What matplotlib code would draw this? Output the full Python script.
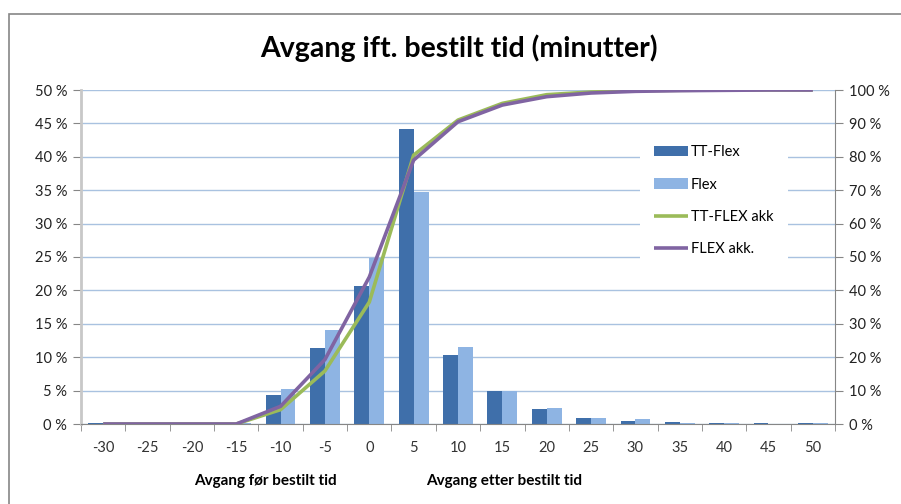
import numpy as np
import matplotlib
matplotlib.use("Agg")
import matplotlib.pyplot as plt
from matplotlib.patches import Rectangle

# minutes relative to booked time
categories = ["-30", "-25", "-20", "-15", "-10", "-5", "0", "5", "10", "15",
              "20", "25", "30", "35", "40", "45", "50"]

# share of departures per bucket (%)
tt_flex = [0.1, 0, 0, 0, 4.3, 11.4, 20.6, 44.2, 10.3, 5.0, 2.2, 0.9, 0.5, 0.3, 0.1, 0.1, 0.1]
flex = [0, 0, 0, 0.1, 5.3, 14.1, 24.8, 34.8, 11.6, 5.0, 2.4, 0.9, 0.7, 0.1, 0.1, 0.05, 0.1]

# accumulated (%)
tt_flex_akk = [0, 0, 0, 0, 4.3, 15.9, 36.5, 80.5, 91.0, 96.0, 98.6, 99.4, 99.8, 99.9, 100, 100, 100]
flex_akk = [0, 0, 0, 0, 5.3, 19.3, 44.0, 79.0, 90.5, 95.5, 98.0, 99.1, 99.6, 99.8, 99.9, 100, 100]

FONT = ["Lato", "DejaVu Sans"]
plt.rcParams['font.family'] = FONT

fig = plt.figure(figsize=(9.01, 5.04), dpi=100)
ax = fig.add_axes([81 / 901, 1 - 424 / 504, 754 / 901, 334 / 504])
ax2 = ax.twinx()

x = np.arange(len(categories))
w = 0.335
ax.bar(x - w / 2, tt_flex, width=w, color="#3F6FAA", label="TT-Flex", zorder=2)
ax.bar(x + w / 2, flex, width=w, color="#8EB4E3", label="Flex", zorder=2)

ax2.plot(x, tt_flex_akk, color="#9BBB59", lw=2.6, label="TT-FLEX akk", solid_capstyle="butt")
ax2.plot(x, flex_akk, color="#8064A2", lw=2.6, label="FLEX akk.", solid_capstyle="butt")

ax.set_xlim(-0.5, len(categories) - 0.5)
ax.set_ylim(0, 50)
ax2.set_ylim(0, 100)

ax.set_yticks(np.arange(0, 51, 5))
ax.set_yticklabels([f"{v} %" for v in range(0, 51, 5)])
ax2.set_yticks(np.arange(0, 101, 10))
ax2.set_yticklabels([f"{v} %" for v in range(0, 101, 10)])

ax.set_xticks(x)
ax.set_xticklabels(categories)
ax.set_xticks(np.arange(-0.5, len(categories), 1), minor=True)
ax.tick_params(axis="x", which="major", length=0, pad=12, labelsize=10.5, colors="#333333")
ax.tick_params(axis="x", which="minor", length=5, color="#868686")
ax.tick_params(axis="y", length=6, color="#868686", labelsize=10.5, labelcolor="#222222", pad=4)
ax2.tick_params(axis="y", length=6, color="#868686", labelsize=10.5, labelcolor="#222222", pad=4)

ax.yaxis.grid(True, color="#A9C2E0", lw=1)
ax.set_axisbelow(True)

for a in (ax, ax2):
    a.spines["top"].set_visible(False)
    a.spines["left"].set_visible(False)
    a.spines["right"].set_visible(False)
    a.spines["bottom"].set_visible(False)
ax.spines["left"].set_visible(True)
ax.spines["left"].set_color("#C8C8C8")
ax.spines["left"].set_linewidth(2)
ax.spines["bottom"].set_visible(True)
ax.spines["bottom"].set_color("#868686")
ax2.spines["right"].set_visible(True)
ax2.spines["right"].set_color("#868686")

h1, l1 = ax.get_legend_handles_labels()
h2, l2 = ax2.get_legend_handles_labels()
leg = ax2.legend(h1 + h2, l1 + l2, loc="upper left", bbox_to_anchor=(0.741, 0.878),
                 frameon=True, fancybox=False, edgecolor="white", facecolor="white",
                 framealpha=1, fontsize=10.5, labelspacing=1.25, handlelength=2.3,
                 handletextpad=0.2, borderpad=1.0, borderaxespad=0)
leg.get_frame().set_linewidth(0)

fig.text(459 / 901, 1 - 48 / 504, "Avgang ift. bestilt tid (minutter)", ha="center",
         va="center", fontsize=20.5, fontweight="bold")
fig.text(265 / 901, 1 - 481 / 504, "Avgang før bestilt tid", ha="center", va="center",
         fontsize=11, fontweight="bold")
fig.text(504 / 901, 1 - 481 / 504, "Avgang etter bestilt tid", ha="center", va="center",
         fontsize=11, fontweight="bold")

fig.patches.append(Rectangle((9 / 901, -0.1), 1.0, 1 - 14 / 504 + 0.1, transform=fig.transFigure,
                             fill=False, edgecolor="#868686", lw=1.2))

fig.savefig("out.png", dpi=100)
